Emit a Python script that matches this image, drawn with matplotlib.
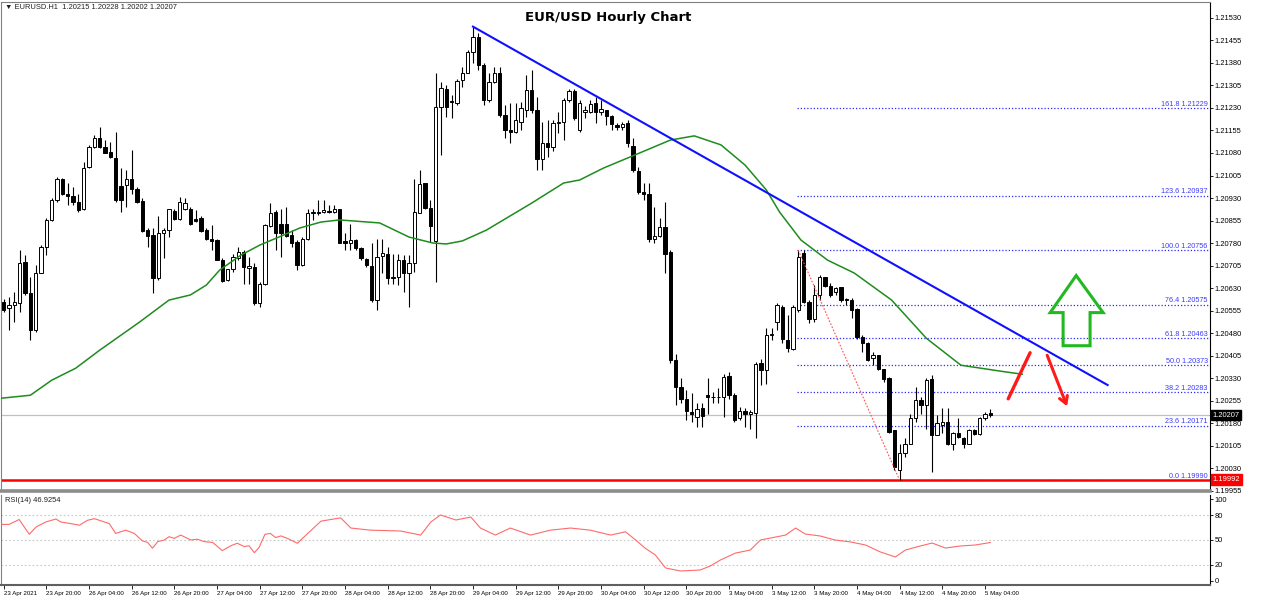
import matplotlib
matplotlib.use("Agg")
import numpy as np
import matplotlib.pyplot as plt
from matplotlib.patches import Polygon
from matplotlib.transforms import blended_transform_factory

# EURUSD H1 candles, 23 Apr 12:00 .. 5 May 05:00
opens = [
    1.20584, 1.20562, 1.20573, 1.20579, 1.20717, 1.20612, 1.20490, 1.20679, 1.20767, 1.20856,
    1.20925, 1.20995, 1.20943, 1.20936, 1.20917, 1.20892, 1.21032, 1.21101, 1.21129, 1.21099,
    1.21082, 1.21062, 1.20970, 1.20973, 1.20995, 1.20960, 1.20921, 1.20823, 1.20806, 1.20662,
    1.20814, 1.20823, 1.20887, 1.20859, 1.20892, 1.20892, 1.20859, 1.20865, 1.20825, 1.20792,
    1.20790, 1.20725, 1.20656, 1.20692, 1.20729, 1.20751, 1.20696, 1.20701, 1.20579, 1.20643,
    1.20836, 1.20884, 1.20845, 1.20845, 1.20806, 1.20784, 1.20706, 1.20795, 1.20879, 1.20884,
    1.20885, 1.20887, 1.20885, 1.20892, 1.20786, 1.20781, 1.20790, 1.20762, 1.20726, 1.20703,
    1.20590, 1.20736, 1.20745, 1.20662, 1.20667, 1.20723, 1.20679, 1.20714, 1.20881, 1.20979,
    1.20898, 1.20787, 1.21232, 1.21293, 1.21254, 1.21245, 1.21323, 1.21348, 1.21417, 1.21465,
    1.21373, 1.21256, 1.21317, 1.21345, 1.21206, 1.21156, 1.21151, 1.21184, 1.21223, 1.21290,
    1.21223, 1.21059, 1.21112, 1.21101, 1.21179, 1.21184, 1.21256, 1.21287, 1.21156, 1.21217,
    1.21217, 1.21245, 1.21217, 1.21223, 1.21204, 1.21173, 1.21167, 1.21179, 1.21104, 1.21021,
    1.20951, 1.20945, 1.20795, 1.20803, 1.20834, 1.20751, 1.20390, 1.20301, 1.20262, 1.20218,
    1.20201, 1.20229, 1.20273, 1.20268, 1.20266, 1.20268, 1.20336, 1.20273, 1.20196, 1.20221,
    1.20210, 1.20215, 1.20379, 1.20357, 1.20473, 1.20518, 1.20568, 1.20457, 1.20426, 1.20557,
    1.20746, 1.20584, 1.20526, 1.20607, 1.20666, 1.20637, 1.20618, 1.20632, 1.20592, 1.20590,
    1.20559, 1.20468, 1.20446, 1.20396, 1.20407, 1.20359, 1.20329, 1.20157, 1.20023, 1.20079,
    1.20112, 1.20196, 1.20257, 1.20240, 1.20326, 1.20140, 1.20173, 1.20185, 1.20110, 1.20148,
    1.20129, 1.20112, 1.20157, 1.20144, 1.20196, 1.20215,
]
highs = [
    1.20595, 1.20601, 1.20618, 1.20756, 1.20740, 1.20667, 1.20706, 1.20773, 1.20862, 1.20929,
    1.21001, 1.20997, 1.20979, 1.20967, 1.20945, 1.21051, 1.21105, 1.21140, 1.21167, 1.21123,
    1.21117, 1.21151, 1.21029, 1.21023, 1.21090, 1.20967, 1.20929, 1.20829, 1.20829, 1.20870,
    1.20829, 1.20895, 1.20895, 1.20932, 1.20929, 1.20901, 1.20890, 1.20870, 1.20829, 1.20840,
    1.20792, 1.20729, 1.20695, 1.20745, 1.20767, 1.20756, 1.20734, 1.20712, 1.20651, 1.20845,
    1.20912, 1.20890, 1.20895, 1.20901, 1.20823, 1.20790, 1.20801, 1.20895, 1.20895, 1.20925,
    1.20923, 1.20906, 1.20906, 1.20895, 1.20812, 1.20845, 1.20795, 1.20767, 1.20729, 1.20779,
    1.20795, 1.20795, 1.20767, 1.20745, 1.20745, 1.20740, 1.20740, 1.20995, 1.21023, 1.20981,
    1.20923, 1.21345, 1.21317, 1.21306, 1.21273, 1.21328, 1.21367, 1.21423, 1.21501, 1.21479,
    1.21379, 1.21345, 1.21367, 1.21367, 1.21240, 1.21245, 1.21245, 1.21251, 1.21340, 1.21356,
    1.21267, 1.21184, 1.21190, 1.21190, 1.21217, 1.21262, 1.21293, 1.21293, 1.21256, 1.21237,
    1.21256, 1.21267, 1.21256, 1.21223, 1.21206, 1.21179, 1.21184, 1.21190, 1.21129, 1.21034,
    1.20979, 1.20979, 1.20901, 1.20862, 1.20917, 1.20757, 1.20412, 1.20329, 1.20290, 1.20279,
    1.20246, 1.20246, 1.20329, 1.20284, 1.20296, 1.20345, 1.20351, 1.20279, 1.20234, 1.20229,
    1.20223, 1.20384, 1.20395, 1.20496, 1.20496, 1.20579, 1.20573, 1.20540, 1.20573, 1.20756,
    1.20757, 1.20590, 1.20640, 1.20673, 1.20668, 1.20646, 1.20634, 1.20634, 1.20596, 1.20596,
    1.20562, 1.20473, 1.20451, 1.20418, 1.20407, 1.20362, 1.20334, 1.20157, 1.20112, 1.20129,
    1.20212, 1.20301, 1.20268, 1.20329, 1.20340, 1.20207, 1.20229, 1.20229, 1.20151, 1.20196,
    1.20134, 1.20162, 1.20162, 1.20201, 1.20218, 1.20228,
]
lows = [
    1.20551, 1.20490, 1.20517, 1.20551, 1.20606, 1.20456, 1.20484, 1.20679, 1.20740, 1.20854,
    1.20917, 1.20940, 1.20906, 1.20906, 1.20884, 1.20890, 1.21029, 1.21095, 1.21095, 1.21079,
    1.21062, 1.20917, 1.20884, 1.20901, 1.20945, 1.20912, 1.20817, 1.20767, 1.20612, 1.20656,
    1.20729, 1.20801, 1.20856, 1.20856, 1.20890, 1.20840, 1.20850, 1.20817, 1.20790, 1.20756,
    1.20723, 1.20651, 1.20654, 1.20684, 1.20723, 1.20645, 1.20645, 1.20573, 1.20567, 1.20640,
    1.20834, 1.20756, 1.20734, 1.20801, 1.20767, 1.20690, 1.20703, 1.20790, 1.20856, 1.20874,
    1.20879, 1.20879, 1.20879, 1.20779, 1.20756, 1.20756, 1.20756, 1.20723, 1.20701, 1.20584,
    1.20556, 1.20679, 1.20645, 1.20645, 1.20640, 1.20617, 1.20567, 1.20684, 1.20879, 1.20895,
    1.20784, 1.20651, 1.21073, 1.21201, 1.21195, 1.21240, 1.21301, 1.21345, 1.21379, 1.21356,
    1.21240, 1.21251, 1.21312, 1.21201, 1.21129, 1.21112, 1.21145, 1.21156, 1.21201, 1.21212,
    1.21023, 1.21023, 1.21067, 1.21085, 1.21145, 1.21123, 1.21251, 1.21190, 1.21151, 1.21195,
    1.21212, 1.21179, 1.21206, 1.21173, 1.21156, 1.21156, 1.21156, 1.21101, 1.21017, 1.20945,
    1.20923, 1.20784, 1.20779, 1.20801, 1.20679, 1.20379, 1.20240, 1.20246, 1.20190, 1.20185,
    1.20168, 1.20168, 1.20212, 1.20246, 1.20246, 1.20201, 1.20262, 1.20185, 1.20190, 1.20168,
    1.20162, 1.20129, 1.20307, 1.20312, 1.20457, 1.20490, 1.20446, 1.20418, 1.20423, 1.20551,
    1.20579, 1.20514, 1.20518, 1.20590, 1.20634, 1.20601, 1.20607, 1.20584, 1.20573, 1.20529,
    1.20462, 1.20418, 1.20388, 1.20373, 1.20357, 1.20318, 1.20146, 1.20023, 1.19990, 1.20068,
    1.20110, 1.20185, 1.20212, 1.20162, 1.20018, 1.20140, 1.20146, 1.20107, 1.20090, 1.20129,
    1.20096, 1.20110, 1.20140, 1.20140, 1.20190, 1.20202,
]
closes = [
    1.20556, 1.20573, 1.20584, 1.20712, 1.20612, 1.20490, 1.20679, 1.20767, 1.20856, 1.20925,
    1.20995, 1.20943, 1.20936, 1.20917, 1.20890, 1.21029, 1.21101, 1.21129, 1.21101, 1.21081,
    1.21065, 1.20923, 1.20923, 1.20995, 1.20959, 1.20917, 1.20821, 1.20803, 1.20662, 1.20812,
    1.20825, 1.20892, 1.20859, 1.20917, 1.20914, 1.20843, 1.20854, 1.20821, 1.20792, 1.20787,
    1.20725, 1.20654, 1.20692, 1.20734, 1.20751, 1.20701, 1.20703, 1.20579, 1.20645, 1.20840,
    1.20881, 1.20812, 1.20812, 1.20803, 1.20779, 1.20706, 1.20795, 1.20879, 1.20884, 1.20879,
    1.20890, 1.20884, 1.20892, 1.20781, 1.20781, 1.20790, 1.20762, 1.20729, 1.20706, 1.20590,
    1.20734, 1.20747, 1.20662, 1.20667, 1.20723, 1.20679, 1.20714, 1.20884, 1.20976, 1.20898,
    1.20836, 1.21232, 1.21295, 1.21232, 1.21249, 1.21320, 1.21348, 1.21417, 1.21465, 1.21373,
    1.21256, 1.21317, 1.21348, 1.21206, 1.21156, 1.21151, 1.21190, 1.21229, 1.21290, 1.21223,
    1.21059, 1.21112, 1.21101, 1.21179, 1.21184, 1.21256, 1.21287, 1.21195, 1.21245, 1.21223,
    1.21243, 1.21217, 1.21225, 1.21204, 1.21176, 1.21167, 1.21176, 1.21112, 1.21023, 1.20951,
    1.20945, 1.20795, 1.20803, 1.20834, 1.20745, 1.20390, 1.20301, 1.20262, 1.20221, 1.20212,
    1.20227, 1.20204, 1.20268, 1.20266, 1.20268, 1.20334, 1.20273, 1.20190, 1.20221, 1.20210,
    1.20218, 1.20376, 1.20357, 1.20473, 1.20476, 1.20573, 1.20459, 1.20429, 1.20568, 1.20734,
    1.20584, 1.20526, 1.20607, 1.20666, 1.20637, 1.20607, 1.20629, 1.20590, 1.20590, 1.20557,
    1.20468, 1.20446, 1.20390, 1.20407, 1.20359, 1.20326, 1.20151, 1.20034, 1.20079, 1.20112,
    1.20196, 1.20257, 1.20240, 1.20323, 1.20140, 1.20179, 1.20185, 1.20110, 1.20148, 1.20134,
    1.20112, 1.20157, 1.20144, 1.20196, 1.20212, 1.20207,
]

# green moving average, read at bar positions
ma_pos = [-0.5, 5, 9, 13.5, 18, 25.5, 31, 35, 38, 40.5, 44.5, 48, 52, 55.5, 59.5, 63, 70.5, 76,
          80.5, 83, 86, 90.5, 99, 105, 108, 112.5, 117.5, 125, 129.5, 134.5, 139, 143, 145.5,
          149.5, 154.5, 159.5, 166.5, 173, 179.5, 187, 191]
ma_val = [1.20263, 1.20273, 1.20323, 1.20363, 1.20423, 1.20517, 1.20590, 1.20607, 1.20640,
          1.20690, 1.20740, 1.20773, 1.20803, 1.20830, 1.20850, 1.20857, 1.20847, 1.20800,
          1.20780, 1.20777, 1.20787, 1.20823, 1.20913, 1.20980, 1.20990, 1.21030, 1.21067,
          1.21123, 1.21137, 1.21107, 1.21040, 1.20957, 1.20883, 1.20790, 1.20723, 1.20680,
          1.20590, 1.20463, 1.20373, 1.20353, 1.20343]

# RSI(14), read at bar positions
rsi_pos = [-0.5, 1, 2.9, 4.8, 6.1, 7.9, 9.8, 10.7, 12.6, 14.2, 15.7, 17, 18.2, 19.8, 21, 22.9,
           24.5, 26, 27, 27.9, 28.9, 30.1, 31, 32, 33.2, 35.1, 36.3, 37.6, 39.2, 41, 42.6, 43.8,
           45.1, 46, 47, 47.9, 49, 50, 51, 52, 53.2, 55.1, 55.7, 59.5, 63.2, 65.1, 68.8, 74.4,
           78.2, 80.1, 81.9, 84.8, 87.6, 89.4, 92.2, 95, 98.8, 102.5, 106.3, 110, 113.8, 116.6,
           118.5, 120.3, 122.2, 124.1, 126.9, 130.6, 132.5, 134.4, 137.2, 140, 141.9, 143.8,
           146.6, 148.5, 150.3, 153.1, 155.9, 158.8, 161.6, 164.4, 167.2, 169.1, 171.9, 174.1,
           176.6, 179.4, 182.2, 185]
rsi_val = [69, 69, 75, 57, 66, 72, 75.6, 72, 70, 68, 74, 76, 73.5, 70, 58, 62, 58, 49, 47, 40,
           48, 50, 54, 52, 56, 50, 51, 48, 47, 37, 43, 46, 42, 43, 34.5, 41, 57, 58, 53, 55, 52,
           46, 50, 73, 77, 64.6, 62, 61, 56, 72, 80.5, 74.4, 78, 64.6, 56, 64.6, 56, 62, 64.6,
           62, 56, 60, 50, 40, 31.7, 15.9, 12.2, 13.4, 18.3, 25.6, 34, 37.8, 50, 52.4, 56, 64.6,
           57.3, 54.9, 50, 47.6, 43.9, 35.4, 29.3, 37.8, 42.7, 46.3, 40.2, 42.7, 43.9, 46.9254]

fib_levels = ["161.8", "123.6", "100.0", "76.4", "61.8", "50.0", "38.2", "23.6", "0.0"]
fib_prices = [1.21229, 1.20937, 1.20756, 1.20575, 1.20463, 1.20373, 1.20283, 1.20171, 1.19990]

price_ticks = [1.21530 - 0.00075 * k for k in range(22)]
rsi_ticks = [0, 20, 50, 80, 100]

time_labels = ["23 Apr 2021", "23 Apr 20:00", "26 Apr 04:00", "26 Apr 12:00", "26 Apr 20:00",
               "27 Apr 04:00", "27 Apr 12:00", "27 Apr 20:00", "28 Apr 04:00", "28 Apr 12:00",
               "28 Apr 20:00", "29 Apr 04:00", "29 Apr 12:00", "29 Apr 20:00", "30 Apr 04:00",
               "30 Apr 12:00", "30 Apr 20:00", "3 May 04:00", "3 May 12:00", "3 May 20:00",
               "4 May 04:00", "4 May 12:00", "4 May 20:00", "5 May 04:00"]

last_price = 1.20207
support = 1.19992

plt.rcParams['font.family'] = ['DejaVu Sans']
small_font = ['Liberation Sans', 'DejaVu Sans']

fig = plt.figure(figsize=(12.8, 5.99), dpi=100)
ax = fig.add_axes([1 / 1280, 1 - 491 / 599, 1209 / 1280, 489 / 599])
rsi = fig.add_axes([1 / 1280, 1 - 585 / 599, 1209 / 1280, 90 / 599])

xlim = (-0.5, 226.2)
o = np.array(opens)
h = np.array(highs)
l = np.array(lows)
c = np.array(closes)
x = np.arange(len(o))
up = c >= o

ax.vlines(x, l, h, color='black', lw=0.8, zorder=3)
body_lo = np.minimum(o, c)
body_h = np.maximum(np.abs(c - o), 0.00002)
ax.bar(x[up], body_h[up], bottom=body_lo[up], width=0.62, color='white',
       edgecolor='black', linewidth=0.7, zorder=4)
ax.bar(x[~up], body_h[~up], bottom=body_lo[~up], width=0.62, color='black',
       edgecolor='black', linewidth=0.7, zorder=4)

# moving average and trend line
ax.plot(ma_pos, ma_val, color='#1e8c1e', lw=1.1, zorder=5)
ax.plot([88, 207], [1.21501, 1.20307], color='#1010ff', lw=1.5, zorder=5)

# fibonacci retracement
fib_start = 148.8
for lev, p in zip(fib_levels, fib_prices):
    ax.plot([fib_start, xlim[1]], [p, p], color='#2a2aff', lw=0.9,
            linestyle=(0, (1, 1.6)), zorder=2)
    ax.text(xlim[1] - 0.4, p + 0.00002, f"{lev} {p:.5f}", ha='right', va='bottom',
            fontsize=5.2, color='#3a3aff', zorder=6, family=small_font)
ax.plot([149, 168], [1.20756, 1.19990], color='#ff5050', lw=0.8,
        linestyle=(0, (1.5, 1.5)), zorder=5)

ax.axhline(last_price, color='#c0c0c0', lw=0.9, zorder=1)
ax.axhline(support, color='#ff0000', lw=1.8, zorder=2)

ax.set_xlim(*xlim)
ax.set_ylim(1.19954, 1.21583)
ax.set_xticks([])
ax.yaxis.tick_right()
ax.set_yticks(price_ticks)
ax.set_yticklabels([f"{p:.5f}" for p in price_ticks], family=small_font)
ax.tick_params(axis='y', labelsize=5.4, length=2, pad=1.5, width=0.6)

# price boxes on the scale
trans = blended_transform_factory(ax.transAxes, ax.transData)
ax.text(1.002, last_price, f"{last_price:.5f}", transform=trans, ha='left', va='center',
        fontsize=5.4, color='white', zorder=10, family=small_font,
        bbox=dict(boxstyle='square,pad=0.25', fc='black', ec='black'))
ax.text(1.002, support, f"{support:.5f}", transform=trans, ha='left', va='center',
        fontsize=5.4, color='white', zorder=10, family=small_font,
        bbox=dict(boxstyle='square,pad=0.25', fc='#ff0000', ec='#ff0000'))

# header and title
ax.text(0.003, 0.9895, "\u25BC EURUSD.H1  1.20215 1.20228 1.20202 1.20207", transform=ax.transAxes,
        ha='left', va='center', fontsize=5.4, color='#202020', family=small_font)
ax.text(0.5025, 0.969, "EUR/USD Hourly Chart", transform=ax.transAxes, ha='center',
        va='center', fontsize=9.5, fontweight='bold')

# hand-drawn arrows
green_arrow = [(0.8893, 0.4406), (0.9116, 0.3648), (0.9008, 0.3648), (0.9008, 0.2971),
               (0.8785, 0.2971), (0.8785, 0.3648), (0.8678, 0.3648)]
ax.add_patch(Polygon(green_arrow, closed=True, fill=False, edgecolor='#22b822', lw=2.2,
                     transform=ax.transAxes, zorder=7))
ax.plot([0.8331, 0.8512], [0.1885, 0.2828], color='#ff1a1a', lw=2.4,
        transform=ax.transAxes, solid_capstyle='round', zorder=7)
ax.annotate('', xy=(0.8826, 0.1680), xytext=(0.8645, 0.2828), xycoords='axes fraction',
            arrowprops=dict(arrowstyle='->,head_length=0.5,head_width=0.3',
                            color='#ff1a1a', lw=2.2), zorder=7)

for side in ['left', 'top']:
    ax.spines[side].set_color('#808080')
    ax.spines[side].set_linewidth(0.8)
ax.spines['right'].set_color('black')
ax.spines['right'].set_linewidth(0.8)
ax.spines['bottom'].set_color('#8c8c8c')
ax.spines['bottom'].set_linewidth(2.6)

# RSI panel
for lvl in [80, 50, 20]:
    rsi.axhline(lvl, color='#c8c8c8', lw=0.8, linestyle=(0, (1.5, 2)), zorder=1)
rsi.plot(rsi_pos, rsi_val, color='#ff6a6a', lw=0.8, zorder=3)
rsi.set_xlim(*xlim)
rsi.set_ylim(-4.9, 104.9)
rsi.yaxis.tick_right()
rsi.set_yticks(rsi_ticks)
rsi.set_yticklabels([str(t) for t in rsi_ticks], family=small_font)
rsi.tick_params(axis='y', labelsize=5.4, length=2, pad=1.5, width=0.6)
rsi.set_xticks(np.arange(0, len(o), 8))
rsi.set_xticklabels(time_labels, family=small_font)
rsi.tick_params(axis='x', labelsize=4.4, length=3, pad=1.5, width=0.6)
for lbl in rsi.get_xticklabels():
    lbl.set_ha('left')
rsi.text(0.003, 0.94, "RSI(14) 46.9254", transform=rsi.transAxes, ha='left', va='center',
         fontsize=5.4, color='#202020', family=small_font)
rsi.spines['top'].set_visible(False)
rsi.spines['left'].set_color('#808080')
rsi.spines['left'].set_linewidth(0.8)
rsi.spines['right'].set_color('black')
rsi.spines['right'].set_linewidth(0.8)
rsi.spines['bottom'].set_color('#606060')
rsi.spines['bottom'].set_linewidth(1.5)

fig.savefig("out.png", dpi=100)
